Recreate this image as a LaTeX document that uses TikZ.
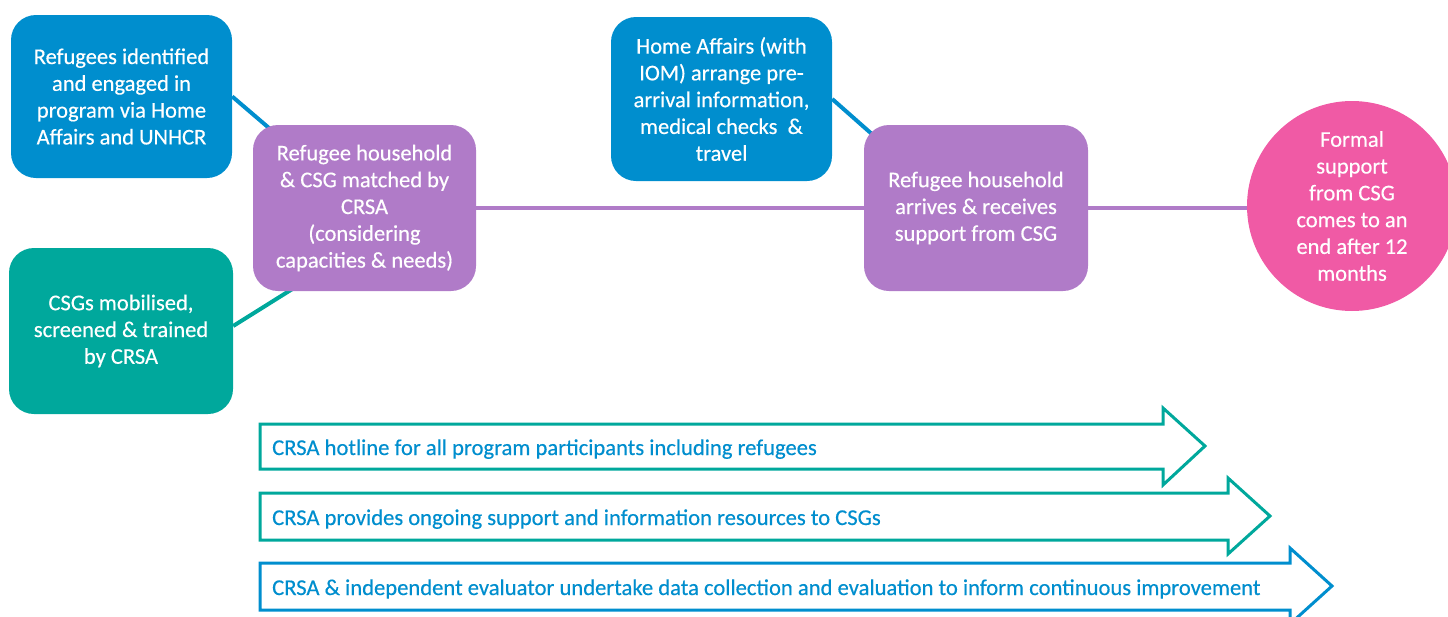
\documentclass[tikz,border=0pt]{standalone}
\usepackage{fontspec}
\setmainfont{Carlito}[FakeBold=0.35]
\usetikzlibrary{calc,backgrounds}
\definecolor{cblue}{RGB}{0,142,206}
\definecolor{cteal}{RGB}{0,168,156}
\definecolor{cpurple}{RGB}{176,123,200}
\definecolor{cpink}{RGB}{240,90,165}
\begin{document}
\begin{tikzpicture}[x=1pt,y=-1pt,
  card/.style={rounded corners=25pt, text=white, align=center, inner sep=0pt,
    font=\fontsize{22.5}{26.8}\selectfont},
  link/.style={line width=4pt},
  band/.style={line width=3pt, line join=miter, fill=white},
  bandtext/.style={anchor=base west, inner sep=0pt, text=cblue, font=\fontsize{22.6}{26}\selectfont}]
\useasboundingbox (0,0) rectangle (1448,616);
\clip (0,0) rectangle (1448,616);

\node[card, fill=cblue, minimum width=221pt, minimum height=163pt] (A) at (121.5,96.5)
  {Refugees identified\\and engaged in\\program via Home\\Affairs and UNHCR};
\node[card, fill=cteal, minimum width=224pt, minimum height=166pt] (B) at (121,331)
  {CSGs mobilised,\\screened \& trained\\by CRSA};
\node[card, fill=cpurple, minimum width=223pt, minimum height=166pt] (C) at (364.5,208)
  {Refugee household\\\& CSG matched by\\CRSA\\(considering\\capacities \& needs)};
\node[card, fill=cblue, minimum width=221pt, minimum height=164pt] (D) at (721.5,99)
  {Home Affairs (with\\IOM) arrange pre-\\arrival information,\\medical checks \ \&\\travel};
\node[card, fill=cpurple, minimum width=224pt, minimum height=166pt] (E) at (976,208)
  {Refugee household\\arrives \& receives\\support from CSG};
\node[circle, fill=cpink, text=white, align=center, inner sep=0pt, minimum size=210pt,
  font=\fontsize{22.5}{26.8}\selectfont] (F) at (1352,206)
  {Formal\\support\\from CSG\\comes to an\\end after 12\\months};

\begin{scope}[on background layer]
  \draw[link, cblue] (A.east) -- ($(C.north west)+(30,15)$);
  \draw[link, cteal] ($(B.east)+(0,-5)$) -- ($(C.south west)+(60,-15)$);
  \draw[link, cblue] (D.east) -- ($(E.north west)+(18,18)$);
  \draw[link, cpurple] (C.east) -- (E.west);
  \draw[link, cpurple] (E.east) -- (E.east -| F.west);
\end{scope}

\draw[band, draw=cteal] (260,424) -- (1163,424) -- (1163,408) -- (1205,446) -- (1163,485) -- (1163,469) -- (260,469) -- cycle;
\node[bandtext] (T1) at (272,455) {CRSA hotline for all program participants including refugees};
\draw[band, draw=cteal] (260,493) -- (1228,493) -- (1228,478) -- (1270,516) -- (1228,554) -- (1228,540) -- (260,540) -- cycle;
\node[bandtext] (T2) at (272,525) {CRSA provides ongoing support and information resources to CSGs};
\draw[band, draw=cblue] (260,563) -- (1290,563) -- (1290,548) -- (1332,586) -- (1290,624) -- (1290,610) -- (260,610) -- cycle;
\node[bandtext] (T3) at (272,595) {CRSA \& independent evaluator undertake data collection and evaluation to inform continuous improvement};
\end{tikzpicture}
\end{document}
